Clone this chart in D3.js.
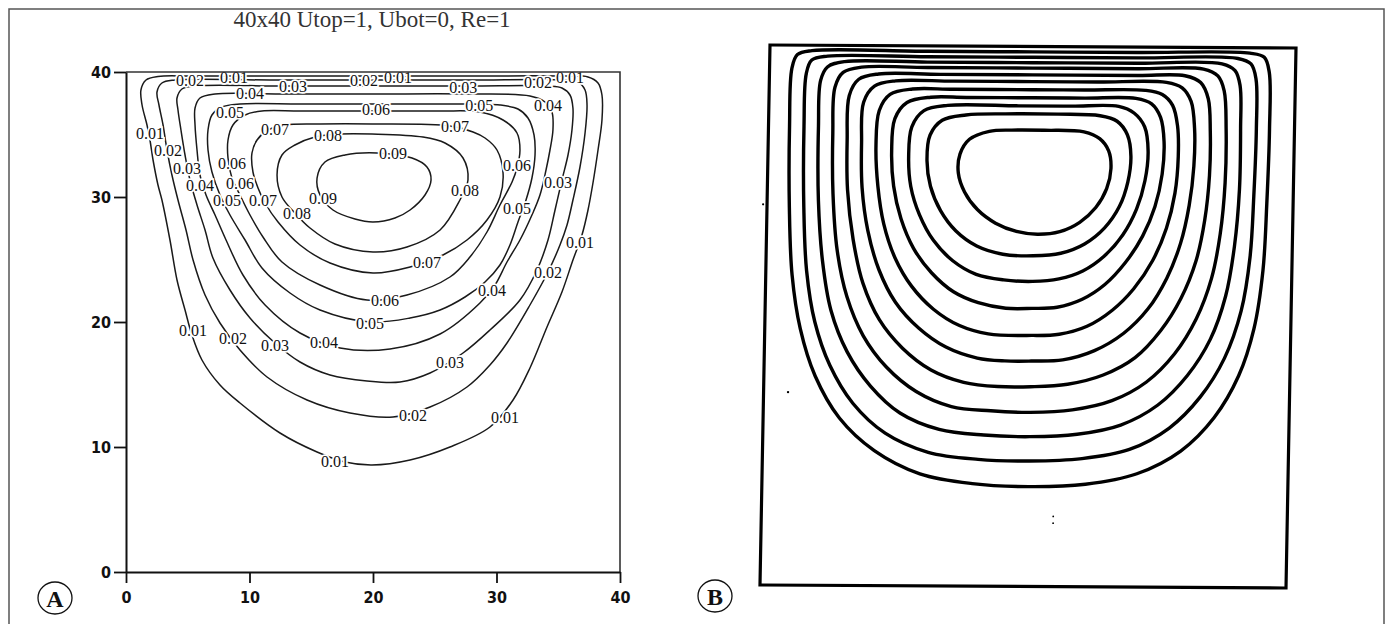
<!DOCTYPE html>
<html>
<head>
<meta charset="utf-8">
<script src="https://cdn.jsdelivr.net/npm/d3@7"></script>
<style>
  html, body { margin: 0; padding: 0; background: #fff; }
  svg { display: block; }
</style>
</head>
<body>
<svg id="fig" width="1386" height="624"></svg>
<script>
// ---- Panel A: stream-function contours, 40x40 cavity, Utop=1, Ubot=0, Re=1 ----
const titleA = "40x40 Utop=1, Ubot=0, Re=1";
const axisTicks = [0, 10, 20, 30, 40];
const levels = [0.01, 0.02, 0.03, 0.04, 0.05, 0.06, 0.07, 0.08, 0.09];

// contour lines as (x, y) points in grid units, one closed loop per level
const psi01 = [[2.59,39.64],[1.62,39.36],[1.21,38.56],[1.30,37.36],[1.70,35.76],[1.94,34.56],[2.19,32.96],[2.59,30.96],[2.91,29.76],[3.56,26.56],[4.13,23.36],[4.78,20.96],[5.34,18.96],[6.15,16.96],[7.61,14.96],[9.23,13.52],[12.47,11.12],[15.47,9.6],[17.73,8.8],[19.92,8.56],[23.0,8.96],[26.23,10.0],[29.47,11.6],[31.34,13.76],[32.71,16.32],[34.09,19.6],[35.3,22.4],[36.19,24.96],[36.92,26.96],[37.41,28.96],[37.81,31.12],[38.22,33.76],[38.54,36.16],[38.54,38.16],[38.22,39.12],[37.41,39.6],[35.14,39.68],[27.85,39.68],[19.92,39.68],[11.66,39.68],[5.18,39.68]];
const psi02 = [[3.97,39.36],[2.91,39.12],[2.51,38.4],[2.67,37.36],[3.0,35.76],[3.32,33.76],[3.72,31.76],[4.21,29.76],[4.86,27.36],[5.43,24.96],[6.40,22.16],[7.61,19.92],[9.23,17.76],[11.42,15.6],[14.66,13.76],[18.14,12.72],[21.62,12.4],[24.62,13.2],[27.61,14.8],[29.47,16.56],[30.85,18.32],[32.71,21.36],[34.17,24.0],[35.14,26.16],[35.71,27.76],[36.19,29.76],[36.76,32.4],[37.17,35.12],[37.33,37.36],[37.17,38.56],[36.6,39.2],[35.55,39.36],[27.85,39.36],[19.92,39.36],[11.66,39.36]];
const psi03 = [[5.59,38.88],[4.53,38.64],[4.13,37.92],[4.21,36.96],[4.45,35.36],[4.78,33.36],[5.18,31.36],[5.75,29.36],[6.40,27.36],[7.04,25.12],[8.42,22.56],[10.04,20.32],[12.06,18.32],[14.09,16.8],[16.52,15.76],[19.51,15.28],[22.19,15.2],[24.62,15.92],[27.29,17.52],[29.47,19.36],[31.9,21.76],[33.28,24.16],[34.17,26.56],[34.74,28.96],[35.3,31.36],[35.79,33.36],[36.11,35.36],[36.19,37.12],[35.95,38.16],[35.3,38.72],[34.17,38.88],[27.85,38.88],[19.92,38.88],[12.47,38.88]];
const psi04 = [[7.21,38.24],[5.99,37.92],[5.59,37.12],[5.59,35.76],[5.75,33.76],[5.99,31.76],[6.48,30.16],[7.21,28.56],[8.10,26.56],[9.47,23.76],[11.26,21.36],[14.09,19.12],[17.33,17.92],[21.38,17.84],[25.43,19.04],[28.66,21.52],[29.88,22.96],[30.85,24.8],[31.9,26.56],[32.87,28.56],[33.52,30.16],[34.01,32.16],[34.33,33.76],[34.57,35.36],[34.49,36.8],[33.93,37.6],[32.71,38.08],[27.85,38.24],[19.92,38.24],[12.47,38.24]];
const psi05 = [[9.23,37.44],[7.77,37.2],[6.96,36.56],[6.64,35.36],[6.64,33.76],[6.96,32.0],[7.61,30.16],[8.42,28.56],[9.64,26.56],[11.01,24.32],[13.28,22.32],[15.71,20.96],[19.76,20.0],[23.0,20.32],[25.43,20.96],[27.45,22.0],[29.07,23.2],[30.28,24.56],[31.09,26.16],[31.74,28.0],[32.39,29.76],[32.87,31.52],[33.12,33.36],[33.04,34.96],[32.55,36.32],[31.74,37.04],[30.28,37.36],[25.43,37.44],[19.92,37.44],[14.09,37.44]];
const psi06 = [[11.01,36.88],[9.64,36.56],[8.66,35.76],[8.26,34.56],[8.26,33.12],[8.58,31.52],[9.23,30.16],[10.04,28.56],[11.09,26.8],[12.63,24.8],[15.71,22.96],[19.51,21.76],[22.75,22.16],[26.23,23.6],[27.85,25.2],[29.23,27.2],[30.28,29.36],[31.26,31.2],[31.66,32.32],[31.9,33.76],[31.66,35.12],[30.53,36.16],[28.66,36.8],[25.43,36.88],[19.92,36.88],[14.09,36.88]];
const psi07 = [[12.87,35.76],[11.5,35.36],[10.61,34.56],[10.2,33.52],[10.28,32.0],[10.69,30.72],[11.26,29.52],[12.31,28.0],[14.09,26.16],[16.52,24.72],[20.0,23.92],[23.0,24.4],[25.67,25.36],[27.61,26.56],[29.23,28.16],[30.28,30.0],[30.53,31.92],[30.04,33.76],[29.07,34.72],[28.1,35.2],[26.23,35.68],[19.92,35.84],[15.71,35.84]];
const psi08 = [[15.3,34.8],[13.68,34.16],[12.63,33.36],[12.23,31.76],[12.63,30.0],[13.68,28.72],[14.9,27.52],[16.92,26.24],[20.0,25.6],[22.75,26.0],[25.43,27.36],[27.04,29.76],[27.69,31.36],[27.29,33.12],[25.83,34.32],[24.05,34.8],[19.92,35.04],[17.33,35.04]];
const psi09 = [[20.32,33.52],[17.73,33.36],[16.11,32.8],[15.47,31.52],[15.71,30.16],[16.76,28.96],[18.54,28.24],[20.0,28.0],[21.78,28.32],[23.0,28.96],[24.21,30.16],[24.7,31.36],[24.37,32.4],[23.16,33.12]];
const contoursA = [psi01, psi02, psi03, psi04, psi05, psi06, psi07, psi08, psi09];

// in-line contour labels: text, x, y (grid units)
const labelsA = [
  ["0.02",5.18,39.36],["0.01",8.74,39.6],["0.04",10.04,38.32],["0.03",13.52,38.88],
  ["0.02",19.27,39.36],["0.01",22.02,39.6],["0.03",27.3,38.75],["0.02",33.36,39.2],["0.01",35.95,39.6],
  ["0.05",8.42,36.8],["0.06",20.24,37.04],["0.05",28.6,37.3],["0.04",34.17,37.36],
  ["0.07",12.06,35.44],["0.08",16.36,34.96],["0.07",26.64,35.68],["0.09",21.62,33.52],
  ["0.01",1.94,35.12],["0.02",3.4,33.76],["0.03",4.94,32.32],["0.06",8.58,32.72],
  ["0.04",5.99,30.96],["0.06",9.23,31.12],["0.05",8.18,29.76],["0.07",11.09,29.76],
  ["0.08",13.85,28.72],["0.09",15.95,29.92],
  ["0.08",27.45,30.56],["0.06",31.66,32.56],["0.03",34.98,31.2],["0.05",31.66,29.12],
  ["0.01",36.76,26.4],["0.02",34.17,24.0],["0.04",29.64,22.56],["0.07",24.37,24.8],
  ["0.06",20.97,21.76],["0.05",19.76,19.92],["0.04",16.03,18.4],["0.03",12.06,18.16],
  ["0.02",8.66,18.72],["0.01",5.43,19.36],["0.03",26.23,16.8],["0.02",23.24,12.56],
  ["0.01",30.69,12.4],["0.01",16.92,8.88]
];

// ---- Panel B: hand-traced streamlines of the same cavity (unlabelled), outer to inner ----
const traceB0 = [[3.2,39.6],[2.1,39.3],[1.7,38.3],[1.6,34],[1.7,28],[2.0,23],[2.7,19],[3.9,15.5],[5.8,12.4],[8.5,10.0],[12,8.3],[16,7.6],[20.3,7.4],[24.6,7.6],[28.5,8.4],[31.8,10.1],[34.3,12.6],[36.1,15.7],[37.2,19.2],[37.8,23.5],[38.0,28.5],[38.1,34],[38.0,38.2],[37.6,39.3],[36.5,39.6],[28,39.6],[20,39.6],[12,39.6]];
const traceB1 = [[4.4,39.2],[3.2,38.9],[2.8,37.9],[2.7,34],[2.8,28],[3.1,23.3],[3.8,19.5],[5.0,16.3],[6.8,13.5],[9.3,11.3],[12.6,9.9],[16.4,9.4],[20.3,9.3],[24.3,9.5],[27.9,10.2],[30.9,11.8],[33.2,14.1],[35.0,17.0],[36.2,20.5],[36.8,24.5],[37.0,29],[37.1,34],[37.0,37.7],[36.6,38.8],[35.6,39.2],[28,39.2],[20,39.2],[12,39.2]];
const traceB2 = [[5.7,38.8],[4.4,38.4],[3.9,37.4],[3.8,34],[3.9,28.5],[4.3,24],[5.0,20.4],[6.3,17.3],[8.1,14.8],[10.4,12.8],[13.4,11.6],[16.8,11.2],[20.3,11.1],[23.9,11.3],[27.2,12.0],[30.0,13.5],[32.2,15.7],[33.9,18.4],[35.0,21.6],[35.6,25.3],[35.9,29.5],[35.9,34],[35.8,37.2],[35.4,38.3],[34.4,38.8],[28,38.8],[20,38.8],[12,38.8]];
const traceB3 = [[7.0,38.4],[5.6,38.0],[5.0,36.9],[4.9,33.5],[5.0,29],[5.4,24.8],[6.2,21.4],[7.5,18.5],[9.3,16.2],[11.6,14.4],[14.3,13.3],[17.3,13.0],[20.3,12.9],[23.5,13.1],[26.5,13.8],[29.1,15.2],[31.2,17.3],[32.8,19.9],[33.9,22.9],[34.5,26.2],[34.8,30],[34.8,34],[34.6,36.8],[34.1,37.9],[33.0,38.4],[28,38.4],[20,38.4],[12,38.4]];
const traceB4 = [[8.3,37.9],[6.8,37.5],[6.1,36.3],[6.0,33],[6.1,29.3],[6.6,25.6],[7.4,22.4],[8.7,19.7],[10.5,17.6],[12.7,16.0],[15.2,15.1],[17.8,14.8],[20.3,14.8],[23.1,15.0],[25.8,15.7],[28.2,17.0],[30.1,19.0],[31.6,21.4],[32.7,24.2],[33.3,27.2],[33.6,30.5],[33.6,33.8],[33.4,36.2],[32.8,37.4],[31.6,37.9],[28,37.9],[20,37.9],[13,37.9]];
const traceB5 = [[9.6,37.4],[8.0,37.0],[7.2,35.8],[7.1,32.8],[7.2,29.5],[7.7,26.3],[8.6,23.4],[9.9,21.0],[11.7,19.1],[13.8,17.7],[16.2,16.9],[18.3,16.7],[20.3,16.7],[22.7,16.8],[25.1,17.5],[27.3,18.8],[29.1,20.6],[30.5,22.9],[31.5,25.5],[32.1,28.3],[32.4,31.2],[32.4,34],[32.1,36.0],[31.4,37.0],[30.2,37.4],[25,37.4],[20,37.4],[14,37.4]];
const traceB6 = [[10.9,36.8],[9.2,36.4],[8.4,35.2],[8.2,32.6],[8.4,29.6],[8.9,26.8],[9.8,24.3],[11.1,22.2],[12.8,20.5],[14.8,19.3],[17.0,18.7],[20.3,18.6],[22.4,18.7],[24.5,19.3],[26.4,20.5],[28.0,22.1],[29.4,24.2],[30.4,26.6],[31.0,29.2],[31.2,31.9],[31.1,34.2],[30.7,35.7],[29.9,36.5],[28.6,36.8],[24,36.8],[20,36.8],[14,36.8]];
const traceB7 = [[12.3,36.2],[10.5,35.8],[9.6,34.6],[9.4,32.2],[9.6,29.6],[10.2,27.2],[11.2,25.0],[12.6,23.2],[14.3,21.8],[16.2,21.0],[18.3,20.6],[20.3,20.6],[22.2,20.7],[24.1,21.3],[25.8,22.4],[27.3,24.0],[28.6,26.0],[29.5,28.2],[30.0,30.6],[30.1,33.0],[29.8,34.8],[29.1,35.8],[27.9,36.2],[24,36.2],[20,36.2],[15,36.2]];
const traceB8 = [[13.6,35.6],[11.8,35.2],[10.9,34.0],[10.7,31.8],[10.9,29.6],[11.6,27.5],[12.7,25.6],[14.2,24.1],[16.0,23.1],[18.1,22.7],[20.3,22.6],[22.3,22.8],[24.1,23.4],[25.7,24.5],[27.1,26.1],[28.1,28.0],[28.7,30.1],[28.9,32.3],[28.6,34.1],[27.8,35.1],[26.6,35.6],[23,35.6],[19,35.6]];
const traceB9 = [[15.0,34.9],[13.2,34.5],[12.3,33.4],[12.1,31.5],[12.4,29.6],[13.2,27.8],[14.4,26.3],[16.0,25.2],[18.0,24.6],[20.3,24.5],[22.4,24.7],[24.2,25.4],[25.7,26.6],[26.8,28.2],[27.4,30.0],[27.6,31.9],[27.3,33.5],[26.5,34.5],[25.2,34.9],[22,35.0],[18,35.0]];
const traceB10 = [[16.8,33.7],[15.3,33.1],[14.6,32.0],[14.5,30.6],[15.0,29.2],[16.0,27.9],[17.4,26.9],[19.0,26.3],[20.6,26.1],[22.3,26.3],[23.8,27.0],[25.0,28.1],[25.8,29.5],[26.1,31.0],[25.9,32.3],[25.2,33.2],[24.0,33.7],[21,33.8],[18.5,33.8]];
const tracesB = [traceB0, traceB1, traceB2, traceB3, traceB4, traceB5, traceB6, traceB7, traceB8, traceB9, traceB10];
// small ink specks on the scanned sheet (x, y, size)
const specksB = [[-0.3,28.2,2.2],[1.86,14.3,2.4],[22.2,5.2,1.8],[22.2,4.7,1.8]];

const svg = d3.select("#fig");

// outer figure frame
svg.append("rect").attr("x", 9).attr("y", 9).attr("width", 1375).attr("height", 625)
  .attr("fill", "none").attr("stroke", "#555").attr("stroke-width", 1.5);

// ---------- panel A ----------
const xA = d3.scaleLinear().domain([0, 40]).range([126, 620]);
const yA = d3.scaleLinear().domain([0, 40]).range([572, 72]);

svg.append("text").attr("x", 372).attr("y", 27).attr("text-anchor", "middle")
  .attr("font-family", "Liberation Serif, Times New Roman, serif").attr("font-size", 23)
  .attr("fill", "#333").text(titleA);

const gA = svg.append("g");
const lineA = d3.line().x(d => xA(d[0])).y(d => yA(d[1])).curve(d3.curveCatmullRomClosed.alpha(0.5));
gA.selectAll("path.c").data(contoursA).join("path").attr("class", "c")
  .attr("d", lineA).attr("fill", "none").attr("stroke", "#1a1a1a").attr("stroke-width", 1.5);

gA.selectAll("text.lab").data(labelsA).join("text").attr("class", "lab")
  .attr("x", d => xA(d[1])).attr("y", d => yA(d[2]))
  .attr("dy", "0.35em").attr("text-anchor", "middle")
  .attr("font-family", "Liberation Serif, Times New Roman, serif").attr("font-size", 16)
  .attr("fill", "#111").attr("stroke", "#fff").attr("stroke-width", 3.5)
  .attr("paint-order", "stroke").text(d => d[0]);

// plot box: top and right edges
svg.append("path").attr("d", `M${xA(0)},${yA(40)}H${xA(40)}V${yA(0)}`)
  .attr("fill", "none").attr("stroke", "#333").attr("stroke-width", 1.6);

const tickFont = "Liberation Sans Narrow, DejaVu Sans Condensed, sans-serif";
const axL = svg.append("g").attr("transform", `translate(${xA(0)},0)`)
  .call(d3.axisLeft(yA).tickValues(axisTicks).tickSize(12).tickSizeOuter(0).tickPadding(3));
const axB = svg.append("g").attr("transform", `translate(0,${yA(0)})`)
  .call(d3.axisBottom(xA).tickValues(axisTicks).tickSize(11).tickSizeOuter(0).tickPadding(9));
[axL, axB].forEach(ax => {
  ax.select(".domain").attr("stroke", "#111").attr("stroke-width", 2);
  ax.selectAll(".tick line").attr("stroke", "#111").attr("stroke-width", 1.8);
  ax.selectAll(".tick text").attr("font-family", tickFont).attr("font-weight", "bold")
    .attr("font-size", 16).attr("fill", "#111");
});

// ---------- panel B (scanned drawing, slightly skewed) ----------
const wB = 526, hB = 540;
const xB = d3.scaleLinear().domain([0, 40]).range([0, wB]);
const yB = d3.scaleLinear().domain([0, 40]).range([hB, 0]);
const gB = svg.append("g").attr("transform", `matrix(1,${3 / wB},${-10 / hB},1,770,45)`);
gB.append("rect").attr("x", 0).attr("y", 0).attr("width", wB).attr("height", hB)
  .attr("fill", "none").attr("stroke", "#000").attr("stroke-width", 3.2);
const lineB = d3.line().x(d => xB(d[0])).y(d => yB(d[1])).curve(d3.curveCatmullRomClosed.alpha(0.5));
gB.selectAll("path.t").data(tracesB).join("path").attr("class", "t")
  .attr("d", lineB).attr("fill", "none").attr("stroke", "#000").attr("stroke-width", 3.4);
gB.selectAll("circle.s").data(specksB).join("circle").attr("class", "s")
  .attr("cx", d => xB(d[0])).attr("cy", d => yB(d[1])).attr("r", d => d[2] / 2).attr("fill", "#000");

// ---------- panel letters ----------
const panelTags = [["A", 55, 598], ["B", 715, 596]];
panelTags.forEach(([t, cx, cy]) => {
  svg.append("ellipse").attr("cx", cx).attr("cy", cy).attr("rx", 17).attr("ry", 16)
    .attr("fill", "none").attr("stroke", "#111").attr("stroke-width", 1.3);
  svg.append("text").attr("x", cx).attr("y", cy).attr("dy", "0.36em").attr("text-anchor", "middle")
    .attr("font-family", "Liberation Serif, Times New Roman, serif").attr("font-weight", "bold")
    .attr("font-size", 24).attr("fill", "#111").text(t);
});
</script>
</body>
</html>
